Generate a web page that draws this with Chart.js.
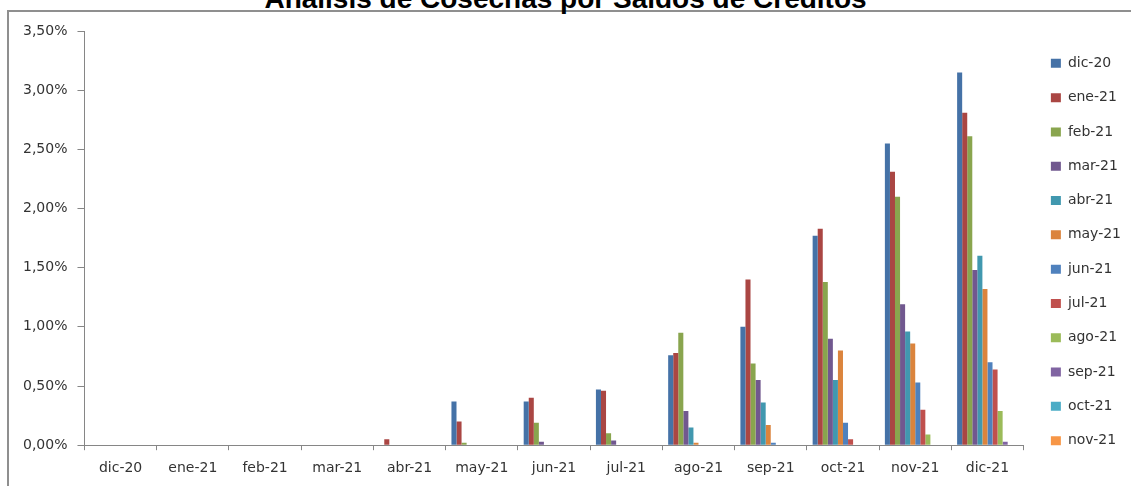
<!DOCTYPE html>
<html>
<head>
<meta charset="utf-8">
<script src="https://cdn.jsdelivr.net/npm/chart.js@4.4.0/dist/chart.umd.min.js"></script>
<style>
  html, body { margin: 0; padding: 0; background: #fff; overflow: hidden; }
  #wrap { position: relative; width: 1131px; height: 486px; }
  #frame { position: absolute; left: 7px; top: 10px; width: 1140px; height: 500px; border: 2px solid #8f8f8f; box-sizing: border-box; }
  #title { position: absolute; left: 0; top: -15px; width: 1131px; text-align: center;
           font: bold 28px "Liberation Sans", Arial, sans-serif; line-height: 28px; color: #000; }
  #chart { position: absolute; left: 0; top: 0; }
</style>
</head>
<body>
<div id="wrap">
  <div id="frame"></div>
  <div id="title">Análisis de Cosechas por Saldos de Créditos</div>
  <canvas id="chart" width="1131" height="486"></canvas>
</div>
<script>
const months = ['dic-20','ene-21','feb-21','mar-21','abr-21','may-21','jun-21','jul-21','ago-21','sep-21','oct-21','nov-21','dic-21']
const cosechas = ['dic-20','ene-21','feb-21','mar-21','abr-21','may-21','jun-21','jul-21','ago-21','sep-21','oct-21','nov-21']

// % de mora por cosecha, un valor por mes de observacion
const dic20 = [0, 0, 0, 0, 0, 0.37, 0.37, 0.47, 0.76, 1.00, 1.77, 2.55, 3.15]
const ene21 = [0, 0, 0, 0, 0.05, 0.20, 0.40, 0.46, 0.78, 1.40, 1.83, 2.31, 2.81]
const feb21 = [0, 0, 0, 0, 0, 0.02, 0.19, 0.10, 0.95, 0.69, 1.38, 2.10, 2.61]
const mar21 = [0, 0, 0, 0, 0, 0, 0.03, 0.04, 0.29, 0.55, 0.90, 1.19, 1.48]
const abr21 = [0, 0, 0, 0, 0, 0, 0, 0, 0.15, 0.36, 0.55, 0.96, 1.60]
const may21 = [0, 0, 0, 0, 0, 0, 0, 0, 0.02, 0.17, 0.80, 0.86, 1.32]
const jun21 = [0, 0, 0, 0, 0, 0, 0, 0, 0, 0.02, 0.19, 0.53, 0.70]
const jul21 = [0, 0, 0, 0, 0, 0, 0, 0, 0, 0, 0.05, 0.30, 0.64]
const ago21 = [0, 0, 0, 0, 0, 0, 0, 0, 0, 0, 0, 0.09, 0.29]
const sep21 = [0, 0, 0, 0, 0, 0, 0, 0, 0, 0, 0, 0, 0.03]
const oct21 = [0, 0, 0, 0, 0, 0, 0, 0, 0, 0, 0, 0, 0]
const nov21 = [0, 0, 0, 0, 0, 0, 0, 0, 0, 0, 0, 0, 0]
const yTicks = [0, 0.5, 1, 1.5, 2, 2.5, 3, 3.5]

const series = [dic20, ene21, feb21, mar21, abr21, may21, jun21, jul21, ago21, sep21, oct21, nov21]
const colors = ['#4572A7','#AA4643','#89A54E','#71588F','#4198AF','#DB843D',
                '#4F81BD','#C0504D','#9BBB59','#8064A2','#4BACC6','#F79646']

const fontTicks = { family: '"DejaVu Sans", sans-serif', size: 14 }
const axisGray = '#868686'

// the legend sits a little apart from the plot in the original
const legendNudge = {
    id: 'legendNudge',
    afterLayout(chart){
        const lg = chart.legend
        lg.left += 7; lg.right += 7
        lg.top -= 7; lg.bottom -= 7
    }
}

const datasets = series.map((d, i)=>({
    label: cosechas[i],
    data: d,
    backgroundColor: colors[i],
    borderWidth: 0,
    categoryPercentage: 0.84,
    barPercentage: 1
}))

new Chart(document.querySelector('#chart'), {
    type: 'bar',
    data: { labels: months, datasets: datasets },
    options: {
        responsive: false,
        animation: false,
        layout: { padding: { left: 13, right: 7, top: 31, bottom: -1 } },
        plugins: {
            tooltip: { enabled: false },
            legend: {
                position: 'right',
                labels: {
                    boxWidth: 10, boxHeight: 9, padding: 20.3,
                    color: '#333', font: fontTicks
                }
            }
        },
        scales: {
            x: {
                grid: { display: true, offset: true, drawOnChartArea: false, tickLength: 5, color: axisGray, tickColor: axisGray },
                border: { color: axisGray, width: 1 },
                ticks: { color: '#333', font: fontTicks, padding: 10, maxRotation: 0 }
            },
            y: {
                min: 0, max: 3.5,
                afterBuildTicks: (axis)=>{ axis.ticks = yTicks.map(v=>({ value: v })) },
                grid: { display: true, drawOnChartArea: false, tickLength: 7, color: axisGray, tickColor: axisGray },
                border: { color: axisGray, width: 1 },
                ticks: {
                    color: '#333', font: fontTicks, padding: 10,
                    callback: (v)=> v.toFixed(2).replace('.', ',') + '%'
                }
            }
        }
    },
    plugins: [legendNudge]
})
</script>
</body>
</html>
